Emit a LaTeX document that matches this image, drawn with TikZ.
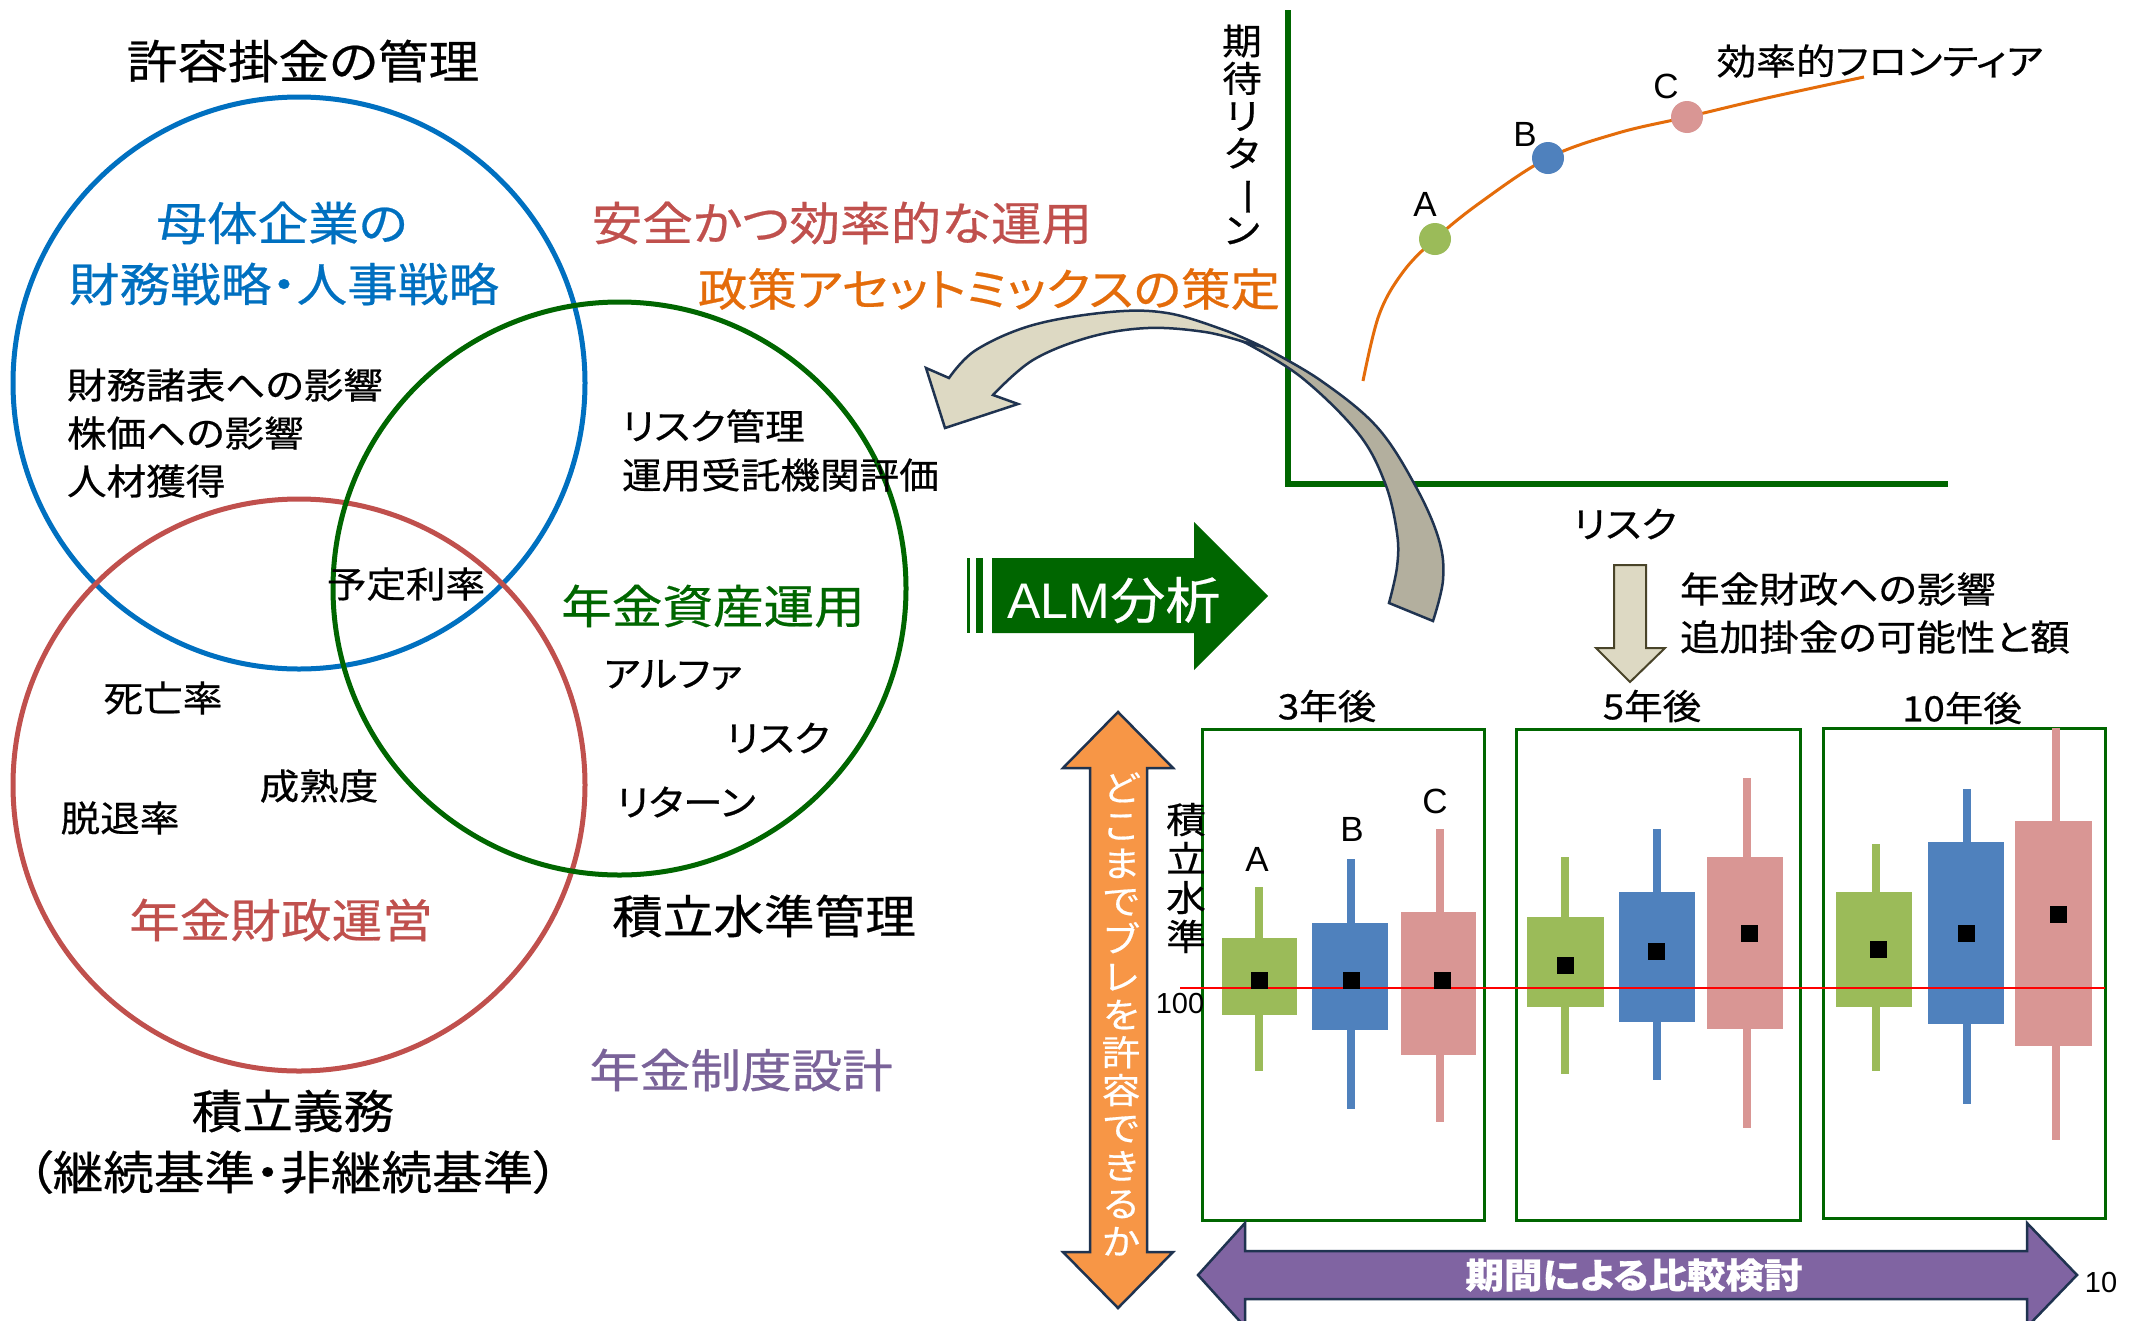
\documentclass[tikz,border=0pt]{standalone}
\usepackage{fontspec}
\usepackage{graphicx}
\setmainfont{Noto Sans CJK JP}[FakeStretch=1.1, FakeBold=0.5, RawFeature=+palt]
\newfontfamily\lat{Liberation Sans}
\newcommand\fsz[1]{\fontsize{#1}{#1}\selectfont}
\definecolor{cblue}{HTML}{0070C0}
\definecolor{cgreen}{HTML}{006600}
\definecolor{cred}{HTML}{C0504D}
\definecolor{corange}{HTML}{E46C0A}
\definecolor{cpurple}{HTML}{7A6399}
\definecolor{ga}{HTML}{9BBB59}
\definecolor{gb}{HTML}{4F81BD}
\definecolor{gc}{HTML}{D99694}
\definecolor{navy}{HTML}{1F3350}
\definecolor{lbeige}{HTML}{DDD9C3}
\definecolor{dbeige}{HTML}{B3AF9E}
\definecolor{ofill}{HTML}{F79646}
\definecolor{pfill}{HTML}{8064A2}
\definecolor{olive}{HTML}{494429}
\tikzset{
  txt/.style={inner sep=0pt, outer sep=0pt},
  venn/.style={line width=5pt},
  frame/.style={draw=cgreen, line width=3pt},
  blockarrow/.style={draw=navy, line width=2.5pt, line join=miter},
}
% #1 colour, #2 x, #3 whisker top, #4 whisker bottom, #5 box left, #6 box right, #7 box top, #8 box bottom, #9 median y
\newcommand\bxp[9]{%
  \fill[#1] (#2-4,#3) rectangle (#2+4,#4);
  \fill[#1] (#5,#7) rectangle (#6,#8);
}
\newcommand\med[2]{\fill[black] (#1-8.5,#2-8.5) rectangle (#1+8.5,#2+8.5);}
\begin{document}
\begin{tikzpicture}[x=1pt,y=-1pt]
\useasboundingbox (0,0) rectangle (2136,1320);
\clip (0,0) rectangle (2136,1320);
\fill[white] (0,0) rectangle (2136,1320);

% ---------- Venn diagram ----------
\draw[venn, cblue] (299,383) circle[radius=286];
\draw[venn, cred] (299,785) circle[radius=286];
\draw[venn, cgreen] (619.5,588.5) circle[radius=286.5];

\node[txt, font={\fsz{46}}] (kyoyo) at (303,61) {許容掛金の管理};
\node[txt, cblue, font={\fsz{46}}] (botai) at (282,223) {母体企業の};
\node[txt, cblue, font={\fsz{46}}] (zaimu) at (284,284) {財務戦略・人事戦略};
\node[txt, font={\fsz{36}}, anchor=west] (eik1) at (67,385) {財務諸表への影響};
\node[txt, font={\fsz{36}}, anchor=west] (eik2) at (67,433) {株価への影響};
\node[txt, font={\fsz{36}}, anchor=west] (jinzai) at (67,481) {人材獲得};
\node[txt, font={\fsz{36}}] (yotei) at (406,584) {予定利率};
\node[txt, font={\fsz{36}}, anchor=west] (risk1) at (622,426) {リスク管理};
\node[txt, font={\fsz{36}}, anchor=west] (unyo) at (622,475) {運用受託機関評価};
\node[txt, cred, font={\fsz{46}}] (anzen) at (842,223) {安全かつ効率的な運用};
\node[txt, corange, font={\fsz{45}}] (seisaku) at (989,289) {政策アセットミックスの策定};
\node[txt, cgreen, font={\fsz{46}}] (shisan) at (713,606) {年金資産運用};
\node[txt, font={\fsz{36}}] (alpha) at (673,675) {アルファ};
\node[txt, font={\fsz{36}}] (risk2) at (778,738) {リスク};
\node[txt, font={\fsz{36}}] (ret) at (686,802) {リターン};
\node[txt, font={\fsz{36}}] (shibo) at (163,698) {死亡率};
\node[txt, font={\fsz{36}}] (seijuku) at (319,786) {成熟度};
\node[txt, font={\fsz{36}}] (dattai) at (120,818) {脱退率};
\node[txt, cred, font={\fsz{46}}] (zaisei) at (281,920) {年金財政運営};
\node[txt, font={\fsz{46}}] (suijun) at (764,916) {積立水準管理};
\node[txt, cpurple, font={\fsz{46}}] (seido) at (741,1070) {年金制度設計};
\node[txt, font={\fsz{46}}] (gimu) at (293,1111) {積立義務};
\node[txt, font={\fsz{46}}] (kijun) at (293,1172) {（継続基準・非継続基準）};

% ---------- risk / return chart ----------
\draw[cgreen, line width=6pt] (1288,10) -- (1288,484) -- (1948,484);
\node[txt, font={\fontsize{36}{37.5}\selectfont}, align=center] (ylab) at (1242,134.5)
  {期\\待\\リ\\タ\\\rotatebox[origin=c]{-90}{ー}\\ン};
\node[txt, font={\fsz{36}}] (xlab) at (1625,524) {リスク};
\draw[corange, line width=3pt] plot[smooth, tension=0.6] coordinates
  {(1363,381) (1379,315) (1403,272) (1435,239) (1481,202) (1548,158) (1618,133) (1687,117) (1767,98) (1864,77)};
\fill[ga] (1435,239) circle[radius=16];
\fill[gb] (1548,158) circle[radius=16];
\fill[gc] (1687,117) circle[radius=16];
\node[txt, font={\lat\fsz{35}}] (pa) at (1425,204) {A};
\node[txt, font={\lat\fsz{35}}] (pb) at (1525,134) {B};
\node[txt, font={\lat\fsz{35}}] (pc) at (1666,86) {C};
\node[txt, font={\fsz{36}}] (front) at (1880,61) {効率的フロンティア};

% ---------- big curved arrow ----------
\path[blockarrow, fill=lbeige] plot[smooth, tension=0.6] coordinates
  {(1263,347) (1224,330) (1167,313) (1110,312) (1033,325) (976,350) (949,378)}
  -- (926,368) -- (945,428) -- (1018,404) -- (993,395)
  -- plot[smooth, tension=0.6] coordinates
  {(993,395) (1033,360) (1090,337) (1148,328) (1205,332) (1244,342)} -- cycle;
\path[blockarrow, fill=dbeige] plot[smooth, tension=0.6] coordinates
  {(1244,342) (1301,377) (1358,433) (1385,483) (1397,533) (1397,567) (1389,603)}
  -- (1433,621)
  -- plot[smooth, tension=0.6] coordinates
  {(1433,621) (1443,580) (1439,540) (1416,487) (1377,427) (1320,380) (1263,347)} -- cycle;

% ---------- ALM arrow ----------
\fill[cgreen] (967,558) rectangle (970,633);
\fill[cgreen] (976,558) rectangle (983,633);
\fill[cgreen] (992,558) -- (1194,558) -- (1194,522) -- (1268,596) -- (1194,670) -- (1194,633) -- (992,633) -- cycle;
\node[txt, white, font={\fsz{50}}] (alm) at (1114,600) {{\lat ALM}分析};

% ---------- down arrow ----------
\draw[draw=olive, fill=lbeige, line width=2pt] (1614,565) -- (1646,565) -- (1646,648) -- (1665,648) -- (1630,682) -- (1596,648) -- (1614,648) -- cycle;
\node[txt, font={\fsz{36}}, anchor=west] (eik3) at (1680,589) {年金財政への影響};
\node[txt, font={\fsz{36}}, anchor=west] (tsuika) at (1680,637) {追加掛金の可能性と額};

% ---------- box plots ----------
\node[txt, font={\fsz{35}}] (y3) at (1327,706) {3年後};
\node[txt, font={\fsz{35}}] (y5) at (1652,706) {5年後};
\node[txt, font={\fsz{35}}] (y10) at (1962,708) {10年後};
\draw[frame] (1202,729) rectangle (1484,1220);
\draw[frame] (1516,729) rectangle (1800,1220);
\draw[frame] (1823,728) rectangle (2105,1218);

\bxp{ga}{1259}{887}{1071}{1222}{1297}{938}{1015}{980}
\bxp{gb}{1351}{859}{1109}{1312}{1388}{923}{1030}{980}
\bxp{gc}{1440}{829}{1122}{1401}{1476}{912}{1055}{980}
\bxp{ga}{1565}{857}{1074}{1527}{1604}{917}{1007}{965}
\bxp{gb}{1657}{829}{1080}{1619}{1695}{892}{1022}{951}
\bxp{gc}{1747}{778}{1128}{1707}{1783}{857}{1029}{933}
\bxp{ga}{1876}{844}{1071}{1836}{1912}{892}{1007}{949}
\bxp{gb}{1967}{789}{1104}{1928}{2004}{842}{1024}{933}
\bxp{gc}{2056}{728}{1140}{2015}{2092}{821}{1046}{914}
\draw[red, line width=1.5pt] (1180,988) -- (2105,988);
\med{1259}{980}\med{1351}{980}\med{1442}{980}
\med{1565}{965}\med{1656}{951}\med{1749}{933}
\med{1878}{949}\med{1966}{933}\med{2058}{914}

\node[txt, font={\lat\fsz{35}}] (la) at (1257,859) {A};
\node[txt, font={\lat\fsz{35}}] (lb) at (1352,829) {B};
\node[txt, font={\lat\fsz{35}}] (lc) at (1435,801) {C};
\node[txt, font={\lat\fsz{29}}] (hundred) at (1180,1004) {100};
\node[txt, font={\fontsize{36}{39}\selectfont}, align=center] (tsumi) at (1186,878) {積\\立\\水\\準};

% ---------- orange vertical double arrow ----------
\draw[blockarrow, fill=ofill] (1118,712) -- (1173,768) -- (1147,768) -- (1147,1252) -- (1173,1252) -- (1118,1308)
  -- (1063,1252) -- (1090,1252) -- (1090,768) -- (1063,768) -- cycle;
\node[txt, white, font={\fontsize{35}{37.8}\selectfont}, align=center] (doko) at (1121,1014)
  {ど\\こ\\ま\\で\\ブ\\レ\\を\\許\\容\\で\\き\\る\\か};

% ---------- purple horizontal double arrow ----------
\draw[blockarrow, fill=pfill] (1198,1275) -- (1245,1223) -- (1245,1251) -- (2027,1251) -- (2027,1223) -- (2077,1275)
  -- (2027,1327) -- (2027,1299) -- (1245,1299) -- (1245,1327) -- cycle;
\node[txt, white, font={\bfseries\fsz{35}}] (kikan) at (1634,1275) {期間による比較検討};
\node[txt, font={\lat\fsz{29}}] (ten) at (2101,1282) {10};
\end{tikzpicture}
\end{document}
